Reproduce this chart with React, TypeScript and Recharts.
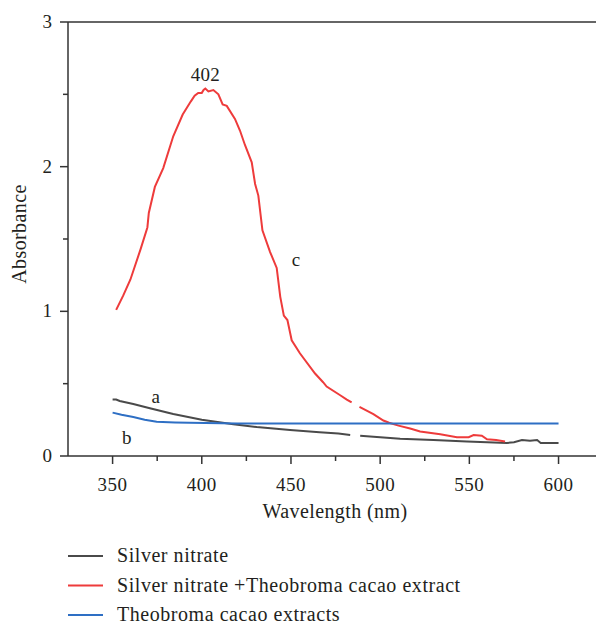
import React from 'react';
import { LineChart, Line, XAxis, YAxis, ReferenceLine, ReferenceDot, Legend } from 'recharts';

const FONT = '"Liberation Serif", "Times New Roman", serif';
const TEXT = '#231f20';
const AXIS = '#333333';

const seriesNames = ['Silver nitrate', 'Silver nitrate +Theobroma cacao extract', 'Theobroma cacao extracts'];
const seriesColors = ['#4a4a4a', '#ee3b3b', '#2e6fc4'];

// a: Silver nitrate
const silverX = [350, 352, 354, 361.6, 370.9, 384, 400, 417.7, 430.8, 449.5, 455, 466, 476.6, 483.2, 486, 488.8, 500, 511.2, 529.9, 548.6, 560, 571, 575, 579.5, 584, 588, 590, 600];
const silverY = [0.39, 0.39, 0.38, 0.36, 0.33, 0.29, 0.25, 0.22, 0.2, 0.18, 0.175, 0.165, 0.155, 0.145, null, 0.14, 0.13, 0.12, 0.11, 0.1, 0.095, 0.09, 0.095, 0.11, 0.105, 0.11, 0.09, 0.09];

// c: Silver nitrate + extract
const mixX = [352, 356, 360, 365.7, 369.5, 370.3, 373.7, 378.4, 384, 389.3, 393.8, 396, 398, 400, 401, 402, 403.7, 406.5, 409.3, 411.7, 414, 418.6, 421.4, 424.2, 428, 429.9, 431.7, 434, 438.3, 442, 444, 446, 448, 450.4, 455, 463.5, 468, 470, 477.6, 481.3, 484, 486, 488.4, 496.2, 501.8, 505, 510.3, 516.8, 522.4, 533.7, 543, 549.6, 552.4, 557, 559.9, 565, 570];
const mixY = [1.01, 1.11, 1.22, 1.43, 1.58, 1.68, 1.86, 1.99, 2.21, 2.36, 2.45, 2.49, 2.51, 2.51, 2.53, 2.54, 2.52, 2.53, 2.5, 2.43, 2.42, 2.33, 2.25, 2.15, 2.03, 1.88, 1.8, 1.56, 1.41, 1.3, 1.1, 0.97, 0.94, 0.8, 0.71, 0.57, 0.51, 0.48, 0.42, 0.39, 0.37, null, 0.34, 0.29, 0.245, 0.23, 0.21, 0.19, 0.17, 0.15, 0.13, 0.13, 0.145, 0.14, 0.115, 0.11, 0.1];

// b: extract
const extractX = [350, 355, 361.6, 368, 374.7, 385, 393, 420, 450, 500, 550, 600];
const extractY = [0.3, 0.285, 0.27, 0.25, 0.237, 0.232, 0.23, 0.225, 0.225, 0.225, 0.225, 0.225];

const xTicks = [350, 375, 400, 425, 450, 475, 500, 525, 550, 575, 600];
const yTicks = [0, 0.5, 1, 1.5, 2, 2.5, 3];

const annotations = [
  { x: 402, y: 2.64, text: '402' },
  { x: 374.3, y: 0.41, text: 'a' },
  { x: 358, y: 0.13, text: 'b' },
  { x: 452.9, y: 1.355, text: 'c' },
];

const toData = (xs: number[], ys: (number | null)[]) => xs.map((x, i) => ({ x, y: ys[i] }));
const silverData = toData(silverX, silverY);
const mixData = toData(mixX, mixY);
const extractData = toData(extractX, extractY);

const XTick = (props: any) => {
  const { x, y, payload } = props;
  const major = payload.value % 50 === 0;
  return (
    <g>
      <line x1={x} x2={x} y1={y} y2={y + (major ? 8 : 5)} stroke={AXIS} strokeWidth={1.5} />
      {major && (
        <text x={x} y={y + 35} textAnchor="middle" fontFamily={FONT} fontSize={19} letterSpacing={0.5} fill={TEXT}>
          {payload.value}
        </text>
      )}
    </g>
  );
};

const YTick = (props: any) => {
  const { x, y, payload } = props;
  const major = Number.isInteger(payload.value);
  return (
    <g>
      <line x1={x - (major ? 8 : 5)} x2={x} y1={y} y2={y} stroke={AXIS} strokeWidth={1.5} />
      {major && (
        <text x={x - 16} y={y + 6} textAnchor="end" fontFamily={FONT} fontSize={19} fill={TEXT}>
          {payload.value}
        </text>
      )}
    </g>
  );
};

const LegendContent = () => (
  <div style={{ height: 108, position: 'relative', margin: 0, padding: 0 }}>
    <svg width={596} height={108} style={{ display: 'block' }}>
      {seriesNames.map((n, i) => {
        const cy = 40 + i * 29.5;
        return (
          <g key={n}>
            <line x1={68} x2={103} y1={cy} y2={cy} stroke={seriesColors[i]} strokeWidth={2} />
            <text x={117} y={cy + 6} fontFamily={FONT} fontSize={20} letterSpacing={0.55} fill={TEXT}>
              {n}
            </text>
          </g>
        );
      })}
    </svg>
  </div>
);

const AnnLabel = (text: string) => (props: any) => {
  const vb = props.viewBox || {};
  return (
    <text x={vb.x} y={vb.y} textAnchor="middle" dominantBaseline="central" fontFamily={FONT} fontSize={19} letterSpacing={0.3} fill={TEXT}>
      {text}
    </text>
  );
};

export default function App() {
  return (
    <div style={{ position: 'absolute', left: 0, top: 0, width: 596, height: 624, background: '#fff' }}>
      <LineChart width={596} height={624} margin={{ top: 22, right: 0, left: 0, bottom: 0 }}>
        <XAxis
          dataKey="x"
          type="number"
          domain={[325, 621]}
          ticks={xTicks}
          allowDataOverflow
          tick={<XTick />}
          tickLine={false}
          tickSize={0}
          tickMargin={0}
          height={60}
          axisLine={{ stroke: AXIS, strokeWidth: 1.5 }}
          label={{
            content: (p: any) => {
              const vb = p.viewBox;
              return (
                <text x={335} y={vb.y + 62} textAnchor="middle" fontFamily={FONT} fontSize={20} letterSpacing={0.4} fill={TEXT}>
                  Wavelength (nm)
                </text>
              );
            },
          }}
        />
        <YAxis
          type="number"
          domain={[0, 3]}
          ticks={yTicks}
          tick={<YTick />}
          tickLine={false}
          tickSize={0}
          tickMargin={0}
          width={68}
          axisLine={{ stroke: AXIS, strokeWidth: 1.5 }}
          label={{
            content: () => (
              <text x={26} y={234} transform="rotate(-90 26 234)" textAnchor="middle" fontFamily={FONT} fontSize={20} letterSpacing={0.4} fill={TEXT}>
                Absorbance
              </text>
            ),
          }}
        />
        <ReferenceLine y={3} stroke={AXIS} strokeWidth={1.5} />
        <Line data={silverData} dataKey="y" stroke={seriesColors[0]} strokeWidth={2} dot={false} isAnimationActive={false} name={seriesNames[0]} />
        <Line data={mixData} dataKey="y" stroke={seriesColors[1]} strokeWidth={2} dot={false} isAnimationActive={false} name={seriesNames[1]} />
        <Line data={extractData} dataKey="y" stroke={seriesColors[2]} strokeWidth={2} dot={false} isAnimationActive={false} name={seriesNames[2]} />
        {annotations.map((a) => (
          <ReferenceDot key={a.text} x={a.x} y={a.y} r={0} stroke="none" fill="none" label={{ content: AnnLabel(a.text) }} />
        ))}
        <Legend verticalAlign="bottom" content={<LegendContent />} wrapperStyle={{ margin: 0, padding: 0 }} />
      </LineChart>
    </div>
  );
}
